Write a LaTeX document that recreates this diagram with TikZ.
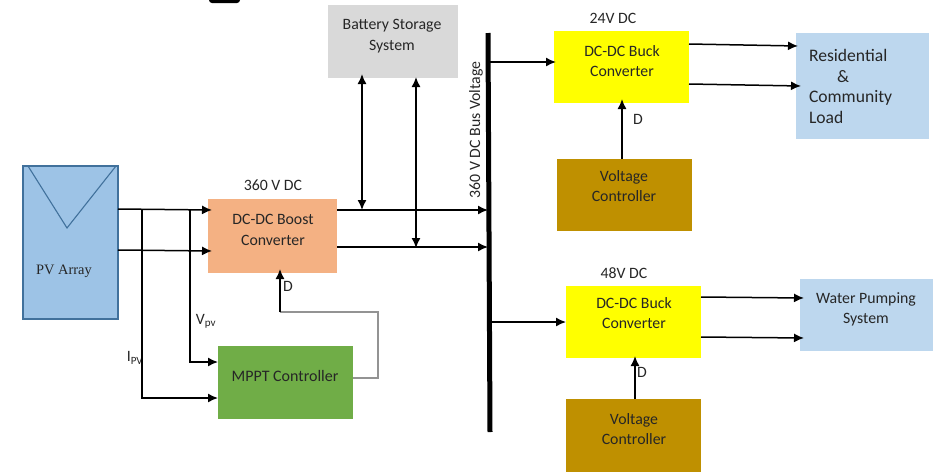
\documentclass[tikz,border=0pt]{standalone}
\usepackage{fontspec}
\setmainfont{Carlito}
\newfontfamily\serifface{Liberation Serif}
\usetikzlibrary{arrows.meta}
\definecolor{pvblue}{HTML}{9DC3E6}
\definecolor{pvedge}{HTML}{41719C}
\definecolor{boostc}{HTML}{F4B183}
\definecolor{battc}{HTML}{D9D9D9}
\definecolor{mpptc}{HTML}{70AD47}
\definecolor{ctrlc}{HTML}{BF9000}
\definecolor{loadc}{HTML}{BDD7EE}
\definecolor{buckc}{HTML}{FFFF00}
\definecolor{txtc}{HTML}{262626}
\tikzset{
  block/.style={draw=none,inner sep=0pt,outer sep=0pt,text=txtc,align=center,font=\fontsize{15.8}{20.3}\selectfont},
  lbl/.style={inner sep=0pt,text=txtc,font=\fontsize{15.8}{18}\selectfont},
  wire/.style={draw=black,line width=1.5pt,-{Latex[length=10pt,width=9pt]}},
  twoway/.style={draw=black,line width=1.5pt,{Latex[length=10pt,width=9pt]}-{Latex[length=10pt,width=9pt]}},
  graywire/.style={draw=gray!85,line width=1.1pt},
}
\begin{document}
\begin{tikzpicture}[x=1pt,y=-1pt]
\useasboundingbox (0,0) rectangle (946,472);
\fill[black,rounded corners=3pt] (209,-4) rectangle (240,3);
% blocks
\node[block,fill=pvblue,draw=pvedge,line width=1.1pt,minimum width=95pt,minimum height=153pt,anchor=north west] (pv) at (23,166) {};
\coordinate (tl) at (28,166);
\coordinate (tr) at (116,166);
\coordinate (tb) at (67,228);
\draw[pvedge,line width=1.1pt] (tl) -- (tb) -- (tr);
\node[inner sep=0pt,text=txtc,font=\serifface\fontsize{14.4}{16}\selectfont] (pvtext) at (64,271) {PV Array};
\node[block,fill=boostc,minimum width=129pt,minimum height=74pt,anchor=north west] (boost) at (208,199) {};
\node[block,anchor=center] (boostt) at (273,230) {DC-DC Boost\\Converter};
\node[block,fill=battc,minimum width=130pt,minimum height=73pt,anchor=north west] (batt) at (328,5) {};
\node[block,anchor=center] (battt) at (392,36) {Battery Storage\\System};
\node[block,fill=mpptc,minimum width=135pt,minimum height=73pt,anchor=north west] (mppt) at (218,346) {};
\node[block,anchor=center,font=\fontsize{16}{20}\selectfont] (mpptt) at (285,376) {MPPT Controller};
\node[block,fill=buckc,minimum width=135pt,minimum height=72pt,anchor=north west] (buckone) at (554,31) {};
\node[block,anchor=center] (buckonet) at (622,61) {DC-DC Buck\\Converter};
\node[block,fill=ctrlc,minimum width=135pt,minimum height=72pt,anchor=north west] (ctrlone) at (557,159) {};
\node[block,anchor=center] (ctrlonet) at (624,186) {Voltage\\Controller};
\node[block,fill=loadc,minimum width=133pt,minimum height=106pt,anchor=north west] (load) at (796,33) {};
\node[block,anchor=north west,align=left,font=\fontsize{17.6}{20.6}\selectfont] (loadt) at (809,49.5) {Residential\\\hspace*{28pt}\&\\Community\\Load};
\node[block,fill=buckc,minimum width=135pt,minimum height=72pt,anchor=north west] (bucktwo) at (566,286) {};
\node[block,anchor=center] (bucktwot) at (634,313) {DC-DC Buck\\Converter};
\node[block,fill=ctrlc,minimum width=135pt,minimum height=73pt,anchor=north west] (ctrltwo) at (566,399) {};
\node[block,anchor=center] (ctrltwot) at (634,429) {Voltage\\Controller};
\node[block,fill=loadc,minimum width=133pt,minimum height=72pt,anchor=north west] (water) at (800,279) {};
\node[block,anchor=center] (watert) at (866,309) {Water Pumping\\System};
% bus
\coordinate (bustop) at (488,33);
\coordinate (busbot) at (490,432);
\draw[black,line width=5pt] (bustop) -- (busbot);
% labels
\node[lbl] (l360) at (273,185) {360 V DC};
\node[lbl] (l24) at (613,18) {24V DC};
\node[lbl] (l48) at (624,273) {48V DC};
\node[lbl,rotate=90] (lbus) at (476,130) {360 V DC Bus Voltage};
\node[lbl] (lv) at (206,321) {V\textsubscript{pv}};
\node[lbl] (li) at (135,358) {I\textsubscript{PV}};
\node[lbl] (dboost) at (288,286) {D};
\node[lbl] (done) at (638,119) {D};
\node[lbl] (dtwo) at (642,372) {D};
% PV to boost
\draw[wire] ([yshift=33.5pt]pv.east) -- ([xshift=4pt,yshift=26pt]boost.west);
\draw[wire] ([yshift=-7.5pt]pv.east) -- ([xshift=4pt,yshift=-15pt]boost.west);
% sense lines
\coordinate (itap) at (142,209);
\coordinate (vtap) at (190,210);
\draw[wire] (itap) |- ([yshift=-15.5pt]mppt.west);
\draw[wire] (vtap) |- ([yshift=20.5pt]mppt.west);
% duty feedback
\coordinate (mr) at (378,378);
\coordinate (mup) at (378,312);
\coordinate (dc) at (280,312);
\draw[graywire] ([yshift=4.5pt]mppt.east) -- (mr) -- (mup) -- (dc);
\draw[wire] (dc) -- ([xshift=7.5pt,yshift=4pt]boost.south);
% boost to bus
\coordinate (busu) at (488,210);
\coordinate (busd) at (488,247);
\draw[wire] ([yshift=26pt]boost.east) -- (busu);
\draw[wire] ([yshift=-11pt]boost.east) -- (busd);
% battery
\coordinate (bbu) at (362,210);
\coordinate (bbv) at (416,248);
\draw[twoway] ([xshift=-31pt,yshift=4pt]batt.south) -- (bbu);
\draw[twoway] ([xshift=23pt,yshift=1pt]batt.south) -- (bbv);
% bus to bucks
\coordinate (bone) at (489,62);
\coordinate (btwo) at (490,322);
\draw[wire] (bone) -- ([xshift=2pt,yshift=5pt]buckone.west);
\draw[wire] (btwo) -- (bucktwo.west);
% controllers
\draw[wire] ([xshift=-2.5pt]ctrlone.north) -- ([xshift=0.5pt,yshift=4pt]buckone.south);
\draw[wire] ([xshift=1.5pt]ctrltwo.north) -- ([xshift=1.5pt,yshift=2pt]bucktwo.south);
% outputs
\draw[wire] ([yshift=23pt]buckone.east) -- ([xshift=2pt,yshift=40pt]load.west);
\draw[wire] ([yshift=-17pt]buckone.east) -- ([xshift=5pt]load.west);
\draw[wire] ([yshift=25pt]bucktwo.east) -- ([xshift=4pt,yshift=17pt]water.west);
\draw[wire] ([yshift=-15pt]bucktwo.east) -- ([xshift=4pt,yshift=-23pt]water.west);
\end{tikzpicture}
\end{document}
